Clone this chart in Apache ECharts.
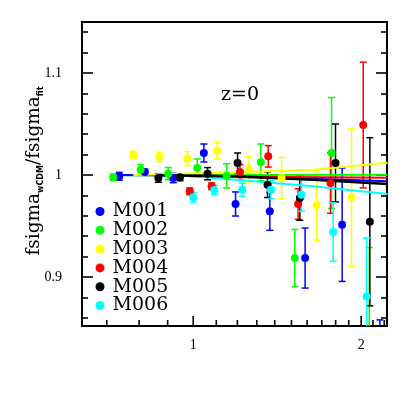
<!DOCTYPE html>
<html>
<head>
<meta charset="utf-8">
<script src="https://cdn.jsdelivr.net/npm/echarts/dist/echarts.min.js"></script>
<style>
  html, body { margin: 0; padding: 0; background: #fff; }
  #fsig { width: 409px; height: 409px; }
</style>
</head>
<body>
<div id="fsig"></div>
<script>
// models + colours
var names = ['M001', 'M002', 'M003', 'M004', 'M005', 'M006'];
var colors = ['#0000ff', '#00ff00', '#ffff00', '#ff0000', '#000000', '#00ffff'];

// points: [x, ratio, error]
var pts_M001 = [[0.737, 0.9987, 0.0039], [0.819, 1.0029, 0.0029], [0.921, 0.9971, 0.0046], [1.045, 1.0216, 0.0088],
                [1.191, 0.9716, 0.0118], [1.372, 0.9644, 0.0186], [1.587, 0.9186, 0.0294], [1.849, 0.9513, 0.0556],
                [2.161, 0.800, 0.058]];
var pts_M002 = [[0.719, 0.9977, 0.0031], [0.805, 1.0052, 0.0049], [0.902, 1.0013, 0.0060], [1.017, 1.0069, 0.0088],
                [1.148, 0.9992, 0.0119], [1.322, 1.0124, 0.0180], [1.521, 0.9186, 0.0281], [1.770, 1.0216, 0.0544],
                [2.068, 0.830, 0.099]];
var pts_M003 = [[0.781, 1.0199, 0.0033], [0.869, 1.0176, 0.0046], [0.976, 1.0160, 0.0070], [1.104, 1.0239, 0.0082],
                [1.258, 1.0052, 0.0131], [1.440, 0.9971, 0.0203], [1.664, 0.9703, 0.0343], [1.922, 0.9781, 0.0676]];
var pts_M004 = [[0.986, 0.9840, 0.0033], [1.079, 0.9889, 0.0033], [1.213, 1.0029, 0.0073], [1.363, 1.0183, 0.0105],
                [1.542, 0.9716, 0.0150], [1.762, 0.9922, 0.0297], [2.017, 1.0490, 0.0616]];
var pts_M005 = [[0.866, 0.9971, 0.0042], [0.947, 0.9977, 0.0033], [1.061, 1.0013, 0.0060], [1.201, 1.0118, 0.0098],
                [1.359, 0.9905, 0.0126], [1.553, 0.9775, 0.0219], [1.799, 1.0118, 0.0382], [2.073, 0.9542, 0.0824]];
var pts_M006 = [[1.000, 0.9781, 0.0049], [1.091, 0.9853, 0.0046], [1.224, 0.9856, 0.0065], [1.378, 0.9856, 0.0088],
                [1.563, 0.9807, 0.0163], [1.782, 0.9441, 0.0286], [2.045, 0.8810, 0.0570]];

// fit curves: [x, ratio]
var fit_M001 = [[0.737, 1.0000], [1.163, 0.9990], [1.641, 0.9964], [2.23, 0.9938]];
var fit_M002 = [[0.719, 0.9997], [2.23, 1.0003]];
var fit_M003 = [[0.781, 1.0000], [1.196, 1.0026], [1.641, 1.0052], [2.23, 1.0121]];
var fit_M004 = [[0.986, 0.9987], [2.23, 0.9974]];
var fit_M005 = [[0.866, 0.9997], [1.163, 0.9987], [1.641, 0.9954], [2.23, 0.9912]];
var fit_M006 = [[1.000, 0.9987], [1.641, 0.9889], [2.23, 0.9814]];

// axes
var xMin = 0.632, xMax = 2.225;
var yMin = 0.852, yMax = 1.15;
var xMajor = [1, 2];
var xMinor = [0.7, 0.8, 0.9, 1.1, 1.2, 1.3, 1.4, 1.5, 1.6, 1.7, 1.8, 1.9, 2.1, 2.2];
var yMajor = [0.9, 1, 1.1];
var yMinor = [0.86, 0.88, 0.92, 0.94, 0.96, 0.98, 1.02, 1.04, 1.06, 1.08, 1.12, 1.14];

var allPts = [pts_M001, pts_M002, pts_M003, pts_M004, pts_M005, pts_M006];
var allFits = [fit_M001, fit_M002, fit_M003, fit_M004, fit_M005, fit_M006];

function lg(v) { return Math.log10(v); }

function errRender(color) {
    return function (params, api) {
        var x = api.value(0), y = api.value(1), e = api.value(2);
        var hi = api.coord([x, y + e]);
        var lo = api.coord([x, y - e]);
        var w = 3.5;
        var st = { stroke: color, lineWidth: 1.5 };
        return {
            type: 'group',
            children: [
                { type: 'line', shape: { x1: hi[0], y1: hi[1], x2: lo[0], y2: lo[1] }, style: st },
                { type: 'line', shape: { x1: hi[0] - w, y1: hi[1], x2: hi[0] + w, y2: hi[1] }, style: st },
                { type: 'line', shape: { x1: lo[0] - w, y1: lo[1], x2: lo[0] + w, y2: lo[1] }, style: st }
            ]
        };
    };
}

// log x ticks along the bottom edge, placed through the axis scale
function tickRender(params, api) {
    var p = api.coord([api.value(0), yMin]);
    var len = api.value(1);
    return {
        type: 'line',
        shape: { x1: p[0], y1: p[1], x2: p[0], y2: p[1] - len },
        style: { stroke: '#000', lineWidth: 1.6 }
    };
}

var series = [];
// error bars first
for (var i = 0; i < names.length; i++) {
    series.push({
        name: names[i] + ' err',
        type: 'custom',
        clip: true,
        renderItem: errRender(colors[i]),
        encode: { x: 0, y: 1 },
        data: allPts[i].map(function (p) { return [lg(p[0]), p[1], p[2]]; }),
        z: 2
    });
}
// fit lines
var lineOrder = [1, 0, 2, 3, 5, 4];
lineOrder.forEach(function (i) {
    series.push({
        name: names[i] + ' fit',
        type: 'line',
        showSymbol: false,
        symbol: 'none',
        clip: true,
        lineStyle: { color: colors[i], width: i == 4 ? 2.5 : 2 },
        data: allFits[i].map(function (p) { return [lg(p[0]), p[1]]; }),
        z: 3
    });
});
// points
for (var j = 0; j < names.length; j++) {
    series.push({
        name: names[j],
        type: 'scatter',
        symbol: 'circle',
        symbolSize: 8,
        clip: true,
        itemStyle: { color: colors[j], opacity: 1 },
        data: allPts[j].map(function (p) { return [lg(p[0]), p[1]]; }),
        z: 4
    });
}
// bottom ticks
series.push({
    name: 'xticks',
    type: 'custom',
    silent: true,
    clip: false,
    renderItem: tickRender,
    encode: { x: 0 },
    data: xMajor.map(function (v) { return [lg(v), 10]; })
        .concat(xMinor.map(function (v) { return [lg(v), 6]; })),
    z: 5
});

var tickFont = { color: '#000', fontSize: 14, fontFamily: 'Liberation Serif' };

function ticks(len, vals) {
    return { show: true, inside: true, length: len, customValues: vals, lineStyle: { color: '#000', width: 1.6 } };
}

var option = {
    animation: false,
    backgroundColor: '#fff',
    grid: {
        left: 82, right: 22, top: 22, bottom: 83,
        show: true, borderColor: '#000', borderWidth: 2
    },
    legend: {
        orient: 'vertical',
        left: 95.5,
        top: 202,
        padding: 0,
        itemWidth: 9,
        itemHeight: 9,
        itemGap: -0.2,
        icon: 'circle',
        selectedMode: false,
        textStyle: { color: '#000', fontSize: 19, fontFamily: 'DejaVu Serif', lineHeight: 17.5, padding: [0, 0, 0, 3] },
        data: names
    },
    xAxis: {
        type: 'value', min: lg(xMin), max: lg(xMax),
        position: 'bottom',
        axisLine: { show: false, onZero: false },
        splitLine: { show: false },
        axisTick: { show: false },
        axisLabel: {
            customValues: xMajor.map(lg), margin: 12,
            formatter: function (v) { return String(Math.round(Math.pow(10, v))); },
            color: tickFont.color, fontSize: tickFont.fontSize, fontFamily: tickFont.fontFamily
        }
    },
    yAxis: [{
        type: 'value', min: yMin, max: yMax, position: 'left',
        axisLine: { show: false, onZero: false }, splitLine: { show: false },
        axisTick: ticks(11, yMajor),
        axisLabel: {
            customValues: yMajor, margin: 20,
            formatter: function (v) { return String(v); },
            color: tickFont.color, fontSize: tickFont.fontSize, fontFamily: tickFont.fontFamily
        }
    }, {
        type: 'value', min: yMin, max: yMax, position: 'left',
        axisLine: { show: false, onZero: false }, splitLine: { show: false },
        axisTick: ticks(6, yMinor),
        axisLabel: { show: false }
    }, {
        type: 'value', min: yMin, max: yMax, position: 'right',
        axisLine: { show: false, onZero: false }, splitLine: { show: false },
        axisTick: ticks(11, yMajor),
        axisLabel: { show: false }
    }, {
        type: 'value', min: yMin, max: yMax, position: 'right',
        axisLine: { show: false, onZero: false }, splitLine: { show: false },
        axisTick: ticks(6, yMinor),
        axisLabel: { show: false }
    }],
    graphic: [{
        type: 'text',
        x: 34, y: 171,
        rotation: Math.PI / 2,
        style: {
            text: '{m|fsigma}{s|wCDM}{m|/fsigma}{s|fit}',
            align: 'center', verticalAlign: 'middle',
            textAlign: 'center', textVerticalAlign: 'middle',
            rich: {
                m: { fontFamily: 'DejaVu Serif', fontSize: 18.5, lineHeight: 22, fill: '#000', color: '#000' },
                s: { fontFamily: 'DejaVu Sans', fontSize: 8, fontWeight: 'bold', lineHeight: 8, verticalAlign: 'bottom', fill: '#000', color: '#000' }
            }
        }
    }, {
        type: 'text',
        x: 240, y: 95,
        style: {
            text: 'z=0',
            font: '19px "DejaVu Serif"',
            fill: '#000',
            align: 'center', verticalAlign: 'middle',
            textAlign: 'center', textVerticalAlign: 'middle'
        }
    }],
    series: series
};

var myChart = echarts.init(document.getElementById('fsig'));
myChart.setOption(option);
</script>
</body>
</html>
